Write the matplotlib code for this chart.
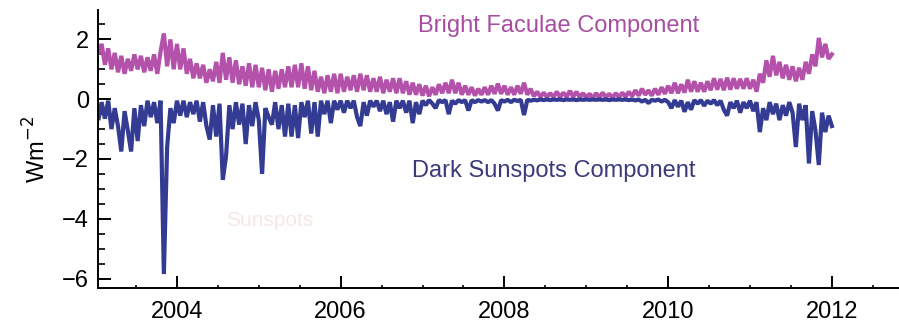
import numpy as np
import matplotlib

matplotlib.use("Agg")
import matplotlib.pyplot as plt
from matplotlib.ticker import MultipleLocator

# sampled every 0.04 yr (roughly half a solar rotation), 2003.00 .. 2012.00
YEAR0 = 2003.0
STEP = 0.04

FACULAE = [
    # 2003
    2.05, 1.50, 1.85, 1.15, 1.70, 1.00, 1.55, 0.90, 1.45, 0.85, 1.35, 0.95, 1.50,
    1.00, 1.45, 0.90, 1.40, 0.95, 1.50, 0.85, 1.60, 2.20, 1.10, 2.00, 1.00,
    # 2004
    1.85, 1.00, 1.70, 0.85, 1.35, 0.70, 1.20, 0.70, 1.15, 0.55, 1.00, 0.60, 1.25,
    0.55, 1.55, 0.65, 1.40, 0.55, 1.30, 0.50, 1.10, 0.45, 1.20, 0.40, 1.15,
    # 2005
    0.40, 1.05, 0.30, 1.00, 0.25, 0.95, 0.35, 1.00, 0.40, 1.10, 0.40, 1.15, 0.40,
    1.20, 0.35, 1.10, 0.30, 0.95, 0.25, 0.75, 0.20, 0.80, 0.25, 0.85, 0.20,
    # 2006
    0.85, 0.25, 0.75, 0.30, 0.80, 0.25, 0.85, 0.30, 0.80, 0.25, 0.70, 0.25, 0.75,
    0.20, 0.65, 0.25, 0.70, 0.20, 0.70, 0.20, 0.60, 0.15, 0.55, 0.15, 0.50,
    # 2007
    0.12, 0.45, 0.10, 0.40, 0.15, 0.50, 0.20, 0.55, 0.20, 0.65, 0.20, 0.55, 0.15,
    0.45, 0.15, 0.40, 0.12, 0.35, 0.15, 0.40, 0.15, 0.45, 0.18, 0.52, 0.18,
    # 2008
    0.45, 0.15, 0.40, 0.15, 0.45, 0.18, 0.55, 0.15, 0.35, 0.10, 0.25, 0.08, 0.22,
    0.07, 0.20, 0.08, 0.25, 0.07, 0.22, 0.08, 0.28, 0.08, 0.25, 0.07, 0.20,
    # 2009
    0.06, 0.18, 0.05, 0.20, 0.06, 0.22, 0.07, 0.18, 0.06, 0.20, 0.07, 0.22, 0.08,
    0.25, 0.10, 0.30, 0.12, 0.35, 0.15, 0.30, 0.12, 0.35, 0.15, 0.40, 0.18,
    # 2010
    0.45, 0.20, 0.55, 0.20, 0.50, 0.22, 0.65, 0.25, 0.60, 0.25, 0.55, 0.25, 0.60,
    0.30, 0.70, 0.32, 0.68, 0.30, 0.72, 0.32, 0.70, 0.35, 0.68, 0.35, 0.70,
    # 2011
    0.35, 0.65, 0.25, 0.85, 0.55, 1.30, 0.75, 1.45, 0.80, 1.25, 0.70, 1.15, 0.65,
    1.10, 0.60, 1.05, 0.65, 1.25, 0.85, 1.50, 1.10, 2.05, 1.40, 1.85, 1.35,
    # 2012.00
    1.50,
]

SUNSPOTS = [
    # 2003
    -0.05, -0.70, -0.10, -0.65, -0.05, -1.00, -0.30, -0.90, -1.75, -0.40, -1.05, -1.75, -0.30,
    -1.40, -0.20, -0.90, -0.05, -0.60, -0.10, -0.80, -0.05, -5.85, -1.60, -0.30, -0.80,
    # 2004
    -0.05, -0.55, -0.05, -0.60, -0.10, -0.50, -0.05, -0.75, -0.10, -0.90, -1.35, -0.20, -1.25,
    -0.15, -2.70, -1.90, -0.20, -1.00, -0.10, -0.85, -0.15, -1.50, -0.20, -0.90, -0.10,
    # 2005
    -0.70, -2.50, -0.30, -0.60, -0.85, -0.10, -1.00, -0.20, -1.25, -0.15, -1.25, -0.20, -1.30,
    -0.10, -0.60, -0.05, -1.15, -0.10, -1.25, -0.05, -0.50, -0.05, -0.80, -0.05, -0.35,
    # 2006
    -0.05, -0.45, -0.05, -0.30, -0.05, -0.60, -0.90, -0.10, -0.55, -0.05, -0.25, -0.05, -0.40,
    -0.05, -0.50, -0.10, -0.75, -0.05, -0.30, -0.05, -0.45, -0.05, -0.80, -0.10, -0.50,
    # 2007
    -0.05, -0.20, -0.03, -0.15, -0.30, -0.03, -0.10, -0.03, -0.50, -0.05, -0.15, -0.03, -0.10,
    -0.03, -0.38, -0.03, -0.10, -0.03, -0.08, -0.03, -0.10, -0.03, -0.15, -0.38, -0.03,
    # 2008
    -0.08, -0.02, -0.10, -0.02, -0.06, -0.02, -0.53, -0.02, -0.05, -0.02, -0.04, -0.01, -0.03,
    -0.01, -0.03, -0.01, -0.02, -0.01, -0.03, -0.01, -0.02, -0.01, -0.03, -0.01, -0.02,
    # 2009
    -0.01, -0.02, -0.01, -0.02, -0.01, -0.02, -0.01, -0.03, -0.01, -0.02, -0.01, -0.02, -0.01,
    -0.03, -0.01, -0.04, -0.01, -0.08, -0.02, -0.13, -0.02, -0.05, -0.01, -0.08, -0.02,
    # 2010
    -0.10, -0.30, -0.03, -0.25, -0.05, -0.42, -0.10, -0.35, -0.03, -0.15, -0.03, -0.22, -0.05,
    -0.15, -0.03, -0.20, -0.05, -0.35, -0.55, -0.10, -0.30, -0.05, -0.45, -0.10, -0.30,
    # 2011
    -0.05, -0.40, -0.10, -1.10, -0.30, -0.70, -0.10, -0.50, -0.15, -0.70, -0.20, -0.55, -0.10,
    -0.45, -1.60, -0.15, -0.70, -0.20, -2.15, -0.40, -1.05, -2.20, -0.45, -1.10, -0.55,
    # 2012.00
    -0.90,
]

YEAR_TICKS = [2004, 2006, 2008, 2010, 2012]
VALUE_TICKS = [-6, -4, -2, 0, 2]

FAC_COLOR = "#B452AB"
SPOT_COLOR = "#343B93"


def main():
    plt.rcParams.update({"font.family": ["Liberation Sans", "DejaVu Sans"],
                         "font.size": 17})
    fig = plt.figure(figsize=(8.99, 3.27), dpi=100)
    ax = fig.add_axes([0.1085, 0.119, 0.8915, 0.850])

    years = YEAR0 + STEP * np.arange(len(FACULAE))
    ax.plot(years, FACULAE, color=FAC_COLOR, lw=3.0, solid_joinstyle="bevel")
    ax.plot(years, SUNSPOTS, color=SPOT_COLOR, lw=3.0, solid_joinstyle="bevel")

    ax.text(2006.95, 2.25, "Bright Faculae Component", color="#A84DA2",
            ha="left", va="baseline", fontsize=17)
    ax.text(2006.87, -2.60, "Dark Sunspots Component", color="#3B3B7C",
            ha="left", va="baseline", fontsize=17)
    # faint ghost text left over in the source image
    ax.text(2004.6, -4.25, "Sunspots", color="#F5E8E4", ha="left",
            va="baseline", fontsize=15)

    ax.set_xlim(2003.03, 2012.82)
    ax.set_ylim(-6.32, 2.98)
    ax.set_xticks(YEAR_TICKS)
    ax.set_yticks(VALUE_TICKS)
    ax.set_yticklabels([str(v).replace("-", "\u2212") for v in VALUE_TICKS])
    ax.xaxis.set_minor_locator(MultipleLocator(0.5))
    ax.yaxis.set_minor_locator(MultipleLocator(0.5))

    for side in ("top", "right"):
        ax.spines[side].set_visible(False)
    for side in ("left", "bottom"):
        ax.spines[side].set_linewidth(1.4)
    ax.tick_params(which="major", direction="in", length=9, width=1.4,
                   labelsize=17)
    ax.tick_params(axis="y", which="major", pad=6)
    ax.tick_params(axis="x", which="major", pad=9)
    ax.tick_params(which="minor", direction="in", width=1.2)
    ax.tick_params(axis="y", which="minor", length=5)
    ax.tick_params(axis="x", which="minor", length=2)

    ax.set_ylabel("Wm$^{-2}$", fontsize=17, labelpad=8)

    fig.savefig("out.png", dpi=100, facecolor="white")
    plt.close(fig)


if __name__ == "__main__":
    main()
